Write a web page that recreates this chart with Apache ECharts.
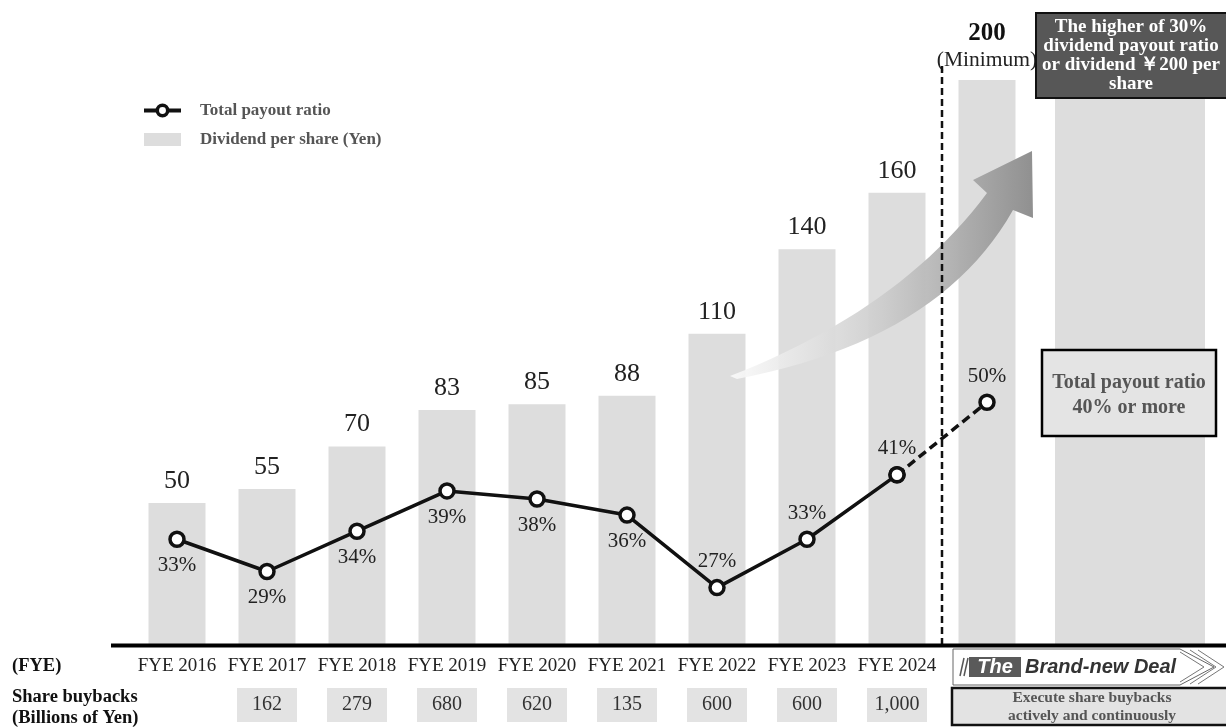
<!DOCTYPE html>
<html><head><meta charset="utf-8">
<script src="https://cdn.jsdelivr.net/npm/echarts@6/dist/echarts.min.js"></script>
<style>html,body{margin:0;padding:0;background:#fff}#c{width:1226px;height:727px}</style>
</head><body><div id="c"></div>
<script>
const categories = ['FYE 2016','FYE 2017','FYE 2018','FYE 2019','FYE 2020','FYE 2021','FYE 2022','FYE 2023','FYE 2024','Target'];
const dividendPerShare = [50, 55, 70, 83, 85, 88, 110, 140, 160, 200];
const totalPayoutRatio = [33, 29, 34, 39, 38, 36, 27, 33, 41, 50];
const shareBuybacks = [null, 162, 279, 680, 620, 135, 600, 600, 1000, null];
const targetBand = [200];

const SERIF = 'Liberation Serif';
const labelAboveIdx = [6, 7, 8, 9];
const lastActual = 8;

function t(x, y, text, font, fill, align, vAlign, lh, z) {
  const st = { text: text, font: font, fill: fill, align: align || 'left',
      verticalAlign: vAlign || 'middle' };
  if (lh) st.lineHeight = lh;
  return { type: 'text', x: x, y: y, z: z || 20, style: st };
}
function quad(p0, c, p1, n) {
  const pts = [];
  for (let k = 0; k <= n; k++) {
    const s = k / n, a = (1 - s) * (1 - s), b = 2 * (1 - s) * s, d = s * s;
    pts.push([a * p0[0] + b * c[0] + d * p1[0], a * p0[1] + b * c[1] + d * p1[1]]);
  }
  return pts;
}
const arrowPts = [].concat(
  quad([730, 376], [900, 310], [987, 193], 24),
  [[973, 180], [1032, 151], [1033, 218]],
  quad([1013, 210], [940, 340], [737, 379], 24)
);

const ratioItem = (v, i) => ({ value: v, label: { position: labelAboveIdx.includes(i) ? 'top' : 'bottom' } });
const solidData = totalPayoutRatio.map((v, i) => i <= lastActual ? ratioItem(v, i) : '-');
const dashedData = totalPayoutRatio.map((v, i) => i >= lastActual ? ratioItem(v, i) : '-');

const chart = echarts.init(document.getElementById('c'), null, { renderer: 'canvas' });
chart.setOption({
  animation: false,
  backgroundColor: '#fff',
  textStyle: { fontFamily: SERIF },
  legend: {
    left: 142, top: 102, padding: 0, orient: 'vertical', itemWidth: 37, itemHeight: 13, itemGap: 12,
    textStyle: { fontFamily: SERIF, fontWeight: 'bold', fontSize: 17, color: '#555', padding: [0, 0, 0, 14] },
    data: [
      { name: 'Total payout ratio', lineStyle: { width: 4 }, itemStyle: { borderWidth: 3.5 } },
      { name: 'Dividend per share (Yen)', icon: 'rect' }
    ]
  },
  grid: [
    { left: 132, width: 900, top: 80, bottom: 83 },
    { left: 1040, width: 180, top: 80, bottom: 83 }
  ],
  xAxis: [
    { type: 'category', gridIndex: 0, data: categories, boundaryGap: true,
      axisLine: { show: false }, axisTick: { show: false }, splitLine: { show: false },
      axisLabel: { interval: 0, margin: 11, fontFamily: SERIF, fontSize: 19, lineHeight: 22, color: '#222',
        formatter: (v, i) => i <= lastActual ? v : '' } },
    { type: 'category', gridIndex: 0, data: categories, position: 'bottom', offset: 40,
      axisLine: { show: false }, axisTick: { show: false },
      axisLabel: { interval: 0, margin: 4,
        formatter: (v, i) => shareBuybacks[i] == null ? '' : '{b|' + shareBuybacks[i].toLocaleString('en-US') + '}',
        rich: { b: { backgroundColor: '#e3e3e3', width: 60, height: 34, lineHeight: 34, align: 'center',
          fontFamily: SERIF, fontSize: 20, color: '#333' } } } },
    { type: 'category', gridIndex: 1, data: ['band'], show: false }
  ],
  yAxis: [
    { type: 'value', gridIndex: 0, min: 0, max: 200, show: false },
    { type: 'value', gridIndex: 0, min: 20, max: 90, show: false },
    { type: 'value', gridIndex: 1, min: 0, max: 200, show: false }
  ],
  series: [
    { name: 'Dividend per share (Yen)', type: 'bar', xAxisIndex: 0, yAxisIndex: 0, barWidth: 57, z: 2,
      itemStyle: { color: '#dddddd' },
      data: dividendPerShare,
      label: { show: true, position: 'top', distance: 9, fontFamily: SERIF, fontSize: 26, color: '#222',
        formatter: p => p.dataIndex === 9 ? '{big|' + p.value + '}\n{small|(Minimum)}' : String(p.value),
        rich: { big: { fontFamily: SERIF, fontSize: 25, fontWeight: 'bold', color: '#111', lineHeight: 30, align: 'center' },
                small: { fontFamily: SERIF, fontSize: 21.5, color: '#222', lineHeight: 22, align: 'center' } } } },
    { name: 'Target band', type: 'bar', xAxisIndex: 2, yAxisIndex: 2, barWidth: 150, z: 2,
      itemStyle: { color: '#dddddd' }, data: targetBand },
    { name: 'Total payout ratio', type: 'line', xAxisIndex: 0, yAxisIndex: 1, z: 6,
      symbol: 'circle', symbolSize: 14,
      itemStyle: { color: '#fff', borderColor: '#111', borderWidth: 3.5 },
      lineStyle: { color: '#111', width: 3.5 },
      label: { show: true, distance: 7, fontFamily: SERIF, fontSize: 21, color: '#222', formatter: p => p.value + '%' },
      data: solidData },
    { name: 'Plan ratio', type: 'line', xAxisIndex: 0, yAxisIndex: 1, z: 5,
      symbol: 'circle', symbolSize: 14,
      itemStyle: { color: '#fff', borderColor: '#111', borderWidth: 3.5 },
      lineStyle: { color: '#111', width: 3.5, type: [9, 5] },
      label: { show: true, distance: 7, fontFamily: SERIF, fontSize: 21, color: '#222',
        formatter: p => p.dataIndex === 9 ? p.value + '%' : '' },
      data: dashedData }
  ],
  graphic: [
    { type: 'polygon', z: 3, shape: { points: arrowPts },
      style: { fill: { type: 'linear', x: 0, y: 0, x2: 1, y2: 0,
        colorStops: [{ offset: 0, color: 'rgba(250,250,250,0.9)' }, { offset: 0.5, color: 'rgba(205,205,205,0.95)' }, { offset: 1, color: '#909090' }] } } },
    { type: 'line', z: 4, shape: { x1: 942, y1: 66, x2: 942, y2: 644 }, style: { stroke: '#111', lineWidth: 2.5, lineDash: [7, 4] } },
    { type: 'line', z: 8, shape: { x1: 111, y1: 645.5, x2: 1226, y2: 645.5 }, style: { stroke: '#000', lineWidth: 4 } },
    { type: 'rect', z: 10, shape: { x: 1036, y: 13, width: 195, height: 85 }, style: { fill: '#575757', stroke: '#111', lineWidth: 2 } },
    t(1131, 18, 'The higher of 30%\ndividend payout ratio\nor dividend ￥200 per\nshare', 'bold 19px "Liberation Serif"', '#fff', 'center', 'top', 19),
    { type: 'rect', z: 10, shape: { x: 1042, y: 350, width: 174, height: 86 }, style: { fill: '#e4e4e4', stroke: '#000', lineWidth: 2.5 } },
    t(1129, 395, 'Total payout ratio\n40% or more', 'bold 20px "Liberation Serif"', '#555', 'center', 'middle', 25),
    t(12, 666, '(FYE)', 'bold 18.5px "Liberation Serif"', '#111'),
    t(12, 697, 'Share buybacks', 'bold 18.5px "Liberation Serif"', '#111'),
    t(12, 718, '(Billions of Yen)', 'bold 18.5px "Liberation Serif"', '#111'),
    { type: 'polygon', z: 10, shape: { points: [[953, 649], [1180, 649], [1214, 667], [1180, 685], [953, 685]] }, style: { fill: '#fff', stroke: '#666', lineWidth: 1 } },
    { type: 'polyline', z: 11, shape: { points: [[1180, 652], [1204, 667], [1180, 682]] }, style: { stroke: '#777', lineWidth: 1, fill: null } },
    { type: 'polyline', z: 11, shape: { points: [[1190, 650], [1216, 667], [1190, 684]] }, style: { stroke: '#777', lineWidth: 1, fill: null } },
    { type: 'polyline', z: 11, shape: { points: [[1198, 650], [1224, 667], [1198, 684]] }, style: { stroke: '#777', lineWidth: 1, fill: null } },
    { type: 'line', z: 11, shape: { x1: 960, y1: 676, x2: 964, y2: 658 }, style: { stroke: '#555', lineWidth: 1.5 } },
    { type: 'line', z: 11, shape: { x1: 964, y1: 676, x2: 968, y2: 658 }, style: { stroke: '#555', lineWidth: 1.5 } },
    { type: 'rect', z: 11, shape: { x: 969, y: 657, width: 52, height: 20 }, style: { fill: '#5a5a5a' } },
    t(995, 667, 'The', 'italic bold 20px "Liberation Sans"', '#fff', 'center', 'middle', null, 12),
    t(1025, 667, 'Brand-new Deal', 'italic bold 20px "Liberation Sans"', '#333', 'left', 'middle', null, 12),
    { type: 'rect', z: 10, shape: { x: 952, y: 688, width: 280, height: 37 }, style: { fill: '#e3e3e3', stroke: '#111', lineWidth: 2.5 } },
    t(1092, 706.5, 'Execute share buybacks\nactively and continuously', 'bold 15.5px "Liberation Serif"', '#555', 'center', 'middle', 18)
  ]
});
</script>
</body></html>
